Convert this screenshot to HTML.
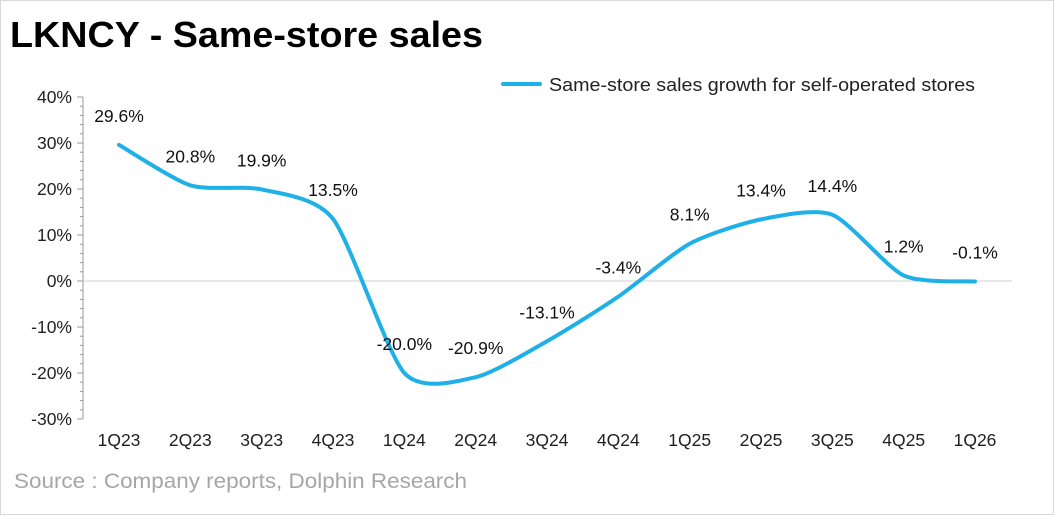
<!DOCTYPE html>
<html><head><meta charset="utf-8"><style>
html,body{margin:0;padding:0;background:#fff;}
svg{display:block;font-family:"Liberation Sans",sans-serif;}
</style></head><body>
<svg id="chart" width="1054" height="515" viewBox="0 0 1054 515">
<rect x="0.5" y="0.5" width="1053" height="514" fill="#fff" stroke="#d9d9d9"/>
<text x="10" y="47" font-size="36" font-weight="bold" fill="#000" textLength="473" lengthAdjust="spacingAndGlyphs">LKNCY - Same-store sales</text>
<line x1="503" y1="84" x2="540" y2="84" stroke="#1fb0e8" stroke-width="4" stroke-linecap="round"/>
<text x="549" y="91" font-size="18" fill="#222" textLength="426" lengthAdjust="spacingAndGlyphs">Same-store sales growth for self-operated stores</text>
<text x="14" y="488" font-size="21" fill="#a6a6a6" textLength="453" lengthAdjust="spacingAndGlyphs">Source : Company reports, Dolphin Research</text>
<g id="axes"></g>
<g id="marks"></g>
</svg>
<script>
const categories=["1Q23","2Q23","3Q23","4Q23","1Q24","2Q24","3Q24","4Q24","1Q25","2Q25","3Q25","4Q25","1Q26"];
const growth=[29.6,20.8,19.9,13.5,-20.0,-20.9,-13.1,-3.4,8.1,13.4,14.4,1.2,-0.1];
const yTicks=[40,30,20,10,0,-10,-20,-30];
const NS="http://www.w3.org/2000/svg";
function xS(i){return 119+i*(975-119)/(categories.length-1);}
function yS(v){return 281-v*4.6;}
function mk(t,a,p){const e=document.createElementNS(NS,t);for(const k in a)e.setAttribute(k,a[k]);p.appendChild(e);return e;}
const ax=document.getElementById('axes'),mg=document.getElementById('marks');
const yl=mk('line',{x1:83,y1:yS(40),x2:83,y2:yS(-30),stroke:'#999','stroke-width':1},ax);


for(let v=-30;v<=40;v+=2){const t=mk('line',{x1:v%10===0?77:80,y1:yS(v),x2:83,y2:yS(v),stroke:'#999','stroke-width':1},ax);

}
yTicks.forEach(v=>{const t=mk('text',{x:72,y:yS(v)+6,'text-anchor':'end','font-size':17.5,fill:'#222'},ax);t.textContent=v+'%';

});
const zl=mk('line',{x1:83,y1:yS(0),x2:1012,y2:yS(0),stroke:'#d0d0d0','stroke-width':1},ax);


categories.forEach((c,i)=>{const t=mk('text',{x:xS(i),y:446,'text-anchor':'middle','font-size':17.5,fill:'#222'},ax);t.textContent=c;

});
const P=growth.map((v,i)=>[xS(i),yS(v)]);
let d='M'+P[0][0]+','+P[0][1];
for(let i=0;i<P.length-1;i++){const p0=P[Math.max(i-1,0)],p1=P[i],p2=P[i+1],p3=P[Math.min(i+2,P.length-1)];
const k=0.12;d+=' C'+(p1[0]+(p2[0]-p0[0])*k)+','+(p1[1]+(p2[1]-p0[1])*k)+' '+(p2[0]-(p3[0]-p1[0])*k)+','+(p2[1]-(p3[1]-p1[1])*k)+' '+p2[0]+','+p2[1];}
const ln=mk('path',{d:d,fill:'none',stroke:'#1fb0e8','stroke-width':4,'stroke-linecap':'round'},mg);


growth.forEach((v,i)=>{const t=mk('text',{x:xS(i),y:yS(v)-23,'text-anchor':'middle','font-size':17.5,fill:'#111'},mg);t.textContent=v.toFixed(1)+'%';

});
</script>
</body></html>
